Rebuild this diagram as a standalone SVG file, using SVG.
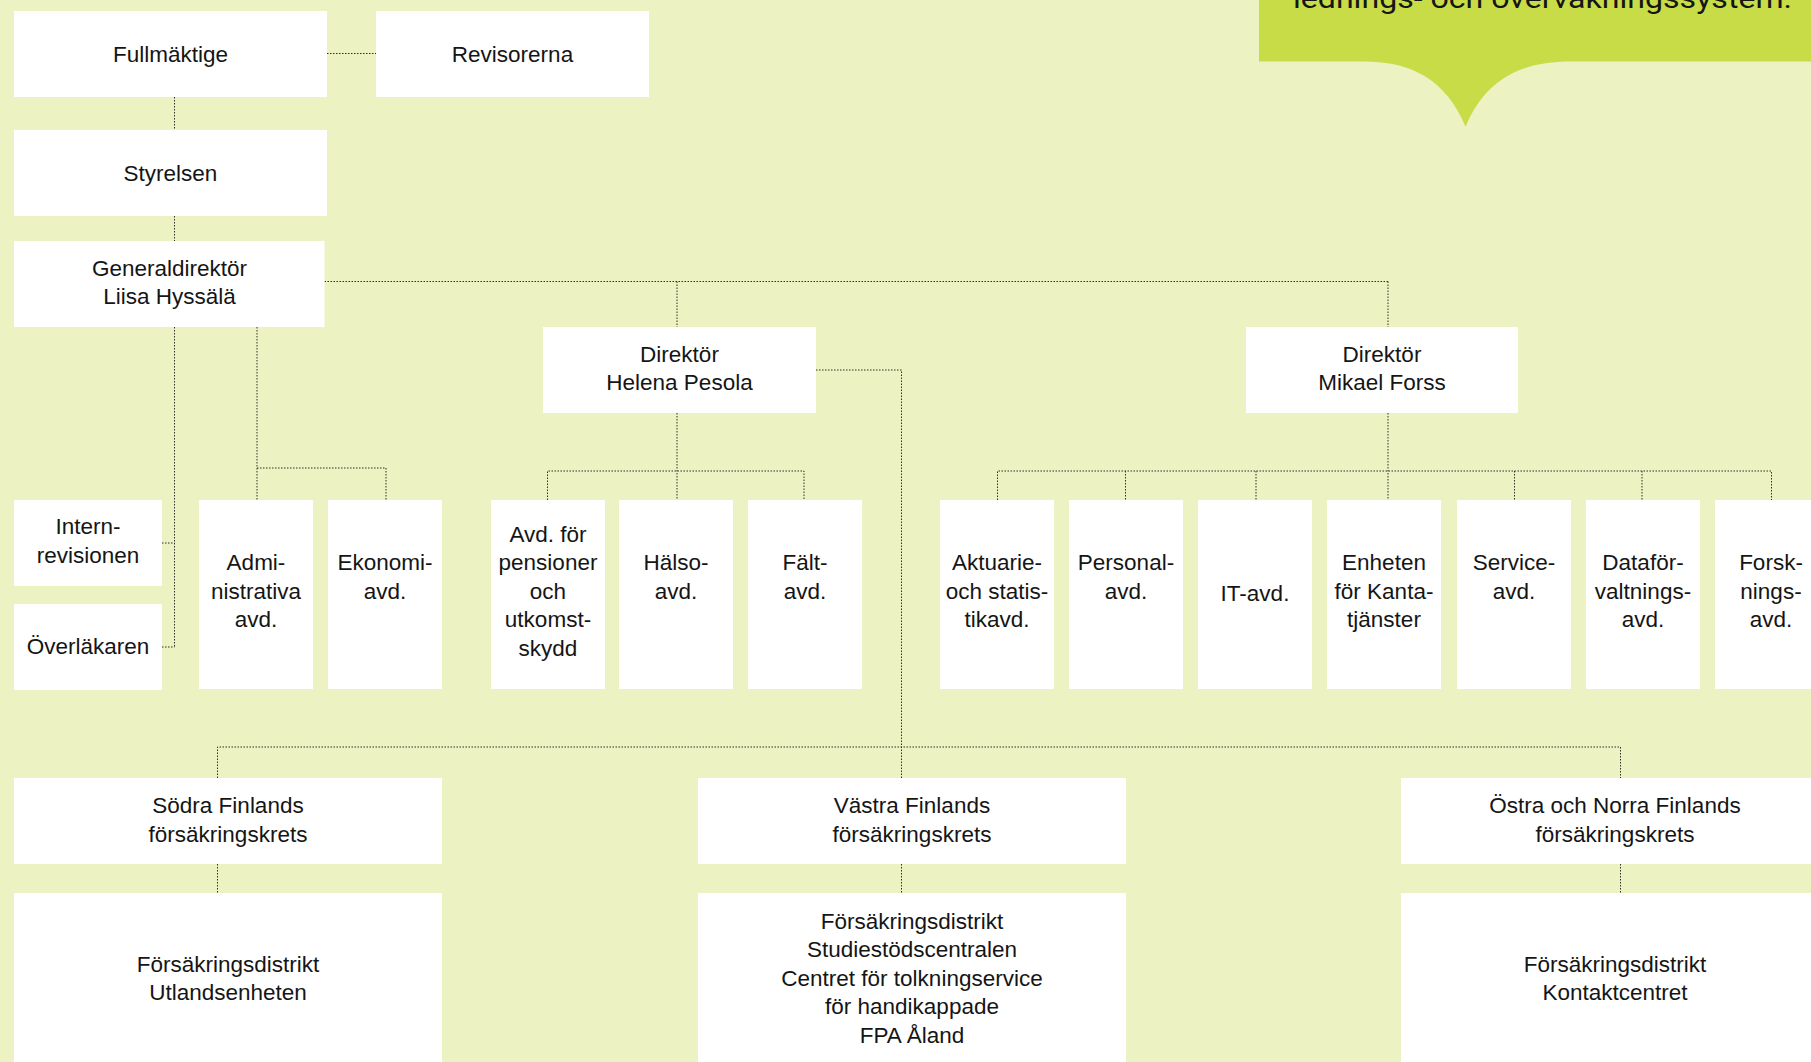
<svg xmlns="http://www.w3.org/2000/svg" width="1811" height="1062" viewBox="0 0 1811 1062">
<style>
.bg{fill:#ecf2c2}
.box{fill:#ffffff}
.t{font-family:"Liberation Sans",Arial,sans-serif;font-size:22.5px;fill:#151515;text-anchor:middle}
.c{fill:none;stroke:#2e2e26;stroke-width:1;stroke-dasharray:1.5 1.5}
.call{fill:#c8dc48}
.ct{font-family:Roboto,"Liberation Sans",sans-serif;font-size:27px;fill:#151515}
</style>
<rect class="bg" x="0" y="0" width="1811" height="1062"/>
<g id="callout">
<path class="call" d="M1259 0H1811V61.5H1570C1520 61.5 1485 80 1465.6 126.7C1446 80 1412 61.5 1364 61.5H1259Z"/>
<text class="ct" x="1293" y="7.5" textLength="499" lengthAdjust="spacingAndGlyphs">lednings- och övervakningssystem.</text>
</g>
<g id="connectors">
<path class="c" d="M327 53.5H376"/>
<path class="c" d="M174.5 97V130"/>
<path class="c" d="M174.5 216V241"/>
<path class="c" d="M324.5 281.5H1388"/>
<path class="c" d="M677 281.5V327"/>
<path class="c" d="M1388 281.5V327"/>
<path class="c" d="M174.5 327V647"/>
<path class="c" d="M162 543H174.5"/>
<path class="c" d="M162 647H174.5"/>
<path class="c" d="M257 327V500"/>
<path class="c" d="M257 468H386V500"/>
<path class="c" d="M677 413V500"/>
<path class="c" d="M547.5 500V471H804V500"/>
<path class="c" d="M816 370H901.5V778"/>
<path class="c" d="M217.5 778V747H1620.5V778"/>
<path class="c" d="M217.5 864V893"/>
<path class="c" d="M901.5 864V893"/>
<path class="c" d="M1620.5 864V893"/>
<path class="c" d="M1388 413V500"/>
<path class="c" d="M997.5 500V471H1771.5V500"/>
<path class="c" d="M1125.5 471V500"/>
<path class="c" d="M1256 471V500"/>
<path class="c" d="M1514.5 471V500"/>
<path class="c" d="M1642 471V500"/>
</g>
<g id="fullmaktige"><rect class="box" x="14" y="11" width="313" height="86"/><text class="t" x="170.5" y="61.5">Fullmäktige</text></g>
<g id="revisorerna"><rect class="box" x="376" y="11" width="273" height="86"/><text class="t" x="512.5" y="61.5">Revisorerna</text></g>
<g id="styrelsen"><rect class="box" x="14" y="130" width="313" height="86"/><text class="t" x="170.5" y="180.5">Styrelsen</text></g>
<g id="generaldirektor"><rect class="box" x="14" y="241" width="310.5" height="86"/><text class="t" x="169.5" y="275.5">Generaldirektör</text><text class="t" x="169.5" y="304">Liisa Hyssälä</text></g>
<g id="pesola"><rect class="box" x="543" y="327" width="273" height="86"/><text class="t" x="679.5" y="361.5">Direktör</text><text class="t" x="679.5" y="390">Helena Pesola</text></g>
<g id="forss"><rect class="box" x="1246" y="327" width="272" height="86"/><text class="t" x="1382" y="361.5">Direktör</text><text class="t" x="1382" y="390">Mikael Forss</text></g>
<g id="internrevisionen"><rect class="box" x="14" y="500" width="148" height="86"/><text class="t" x="88" y="533.5">Intern-</text><text class="t" x="88" y="562.5">revisionen</text></g>
<g id="overlakaren"><rect class="box" x="14" y="604" width="148" height="86"/><text class="t" x="88" y="653.5">Överläkaren</text></g>
<g id="admin"><rect class="box" x="199" y="500" width="114" height="189"/><text class="t" x="256" y="570">Admi-</text><text class="t" x="256" y="598.5">nistrativa</text><text class="t" x="256" y="627">avd.</text></g>
<g id="ekonomi"><rect class="box" x="328" y="500" width="114" height="189"/><text class="t" x="385" y="570">Ekonomi-</text><text class="t" x="385" y="598.5">avd.</text></g>
<g id="pension"><rect class="box" x="491" y="500" width="114" height="189"/><text class="t" x="548" y="541.5">Avd. för</text><text class="t" x="548" y="570">pensioner</text><text class="t" x="548" y="598.5">och</text><text class="t" x="548" y="627">utkomst-</text><text class="t" x="548" y="655.5">skydd</text></g>
<g id="halso"><rect class="box" x="619" y="500" width="114" height="189"/><text class="t" x="676" y="570">Hälso-</text><text class="t" x="676" y="598.5">avd.</text></g>
<g id="falt"><rect class="box" x="748" y="500" width="114" height="189"/><text class="t" x="805" y="570">Fält-</text><text class="t" x="805" y="598.5">avd.</text></g>
<g id="aktuarie"><rect class="box" x="940" y="500" width="114" height="189"/><text class="t" x="997" y="570">Aktuarie-</text><text class="t" x="997" y="598.5">och statis-</text><text class="t" x="997" y="627">tikavd.</text></g>
<g id="personal"><rect class="box" x="1069" y="500" width="114" height="189"/><text class="t" x="1126" y="570">Personal-</text><text class="t" x="1126" y="598.5">avd.</text></g>
<g id="it"><rect class="box" x="1198" y="500" width="114" height="189"/><text class="t" x="1255" y="600.5">IT-avd.</text></g>
<g id="kanta"><rect class="box" x="1327" y="500" width="114" height="189"/><text class="t" x="1384" y="570">Enheten</text><text class="t" x="1384" y="598.5">för Kanta-</text><text class="t" x="1384" y="627">tjänster</text></g>
<g id="service"><rect class="box" x="1457" y="500" width="114" height="189"/><text class="t" x="1514" y="570">Service-</text><text class="t" x="1514" y="598.5">avd.</text></g>
<g id="dataforvaltning"><rect class="box" x="1586" y="500" width="114" height="189"/><text class="t" x="1643" y="570">Dataför-</text><text class="t" x="1643" y="598.5">valtnings-</text><text class="t" x="1643" y="627">avd.</text></g>
<g id="forskning"><rect class="box" x="1715" y="500" width="114" height="189"/><text class="t" x="1771" y="570">Forsk-</text><text class="t" x="1771" y="598.5">nings-</text><text class="t" x="1771" y="627">avd.</text></g>
<g id="sodra"><rect class="box" x="14" y="778" width="428" height="86"/><text class="t" x="228" y="813">Södra Finlands</text><text class="t" x="228" y="841.5">försäkringskrets</text></g>
<g id="vastra"><rect class="box" x="698" y="778" width="428" height="86"/><text class="t" x="912" y="813">Västra Finlands</text><text class="t" x="912" y="841.5">försäkringskrets</text></g>
<g id="ostra"><rect class="box" x="1401" y="778" width="428" height="86"/><text class="t" x="1615" y="813">Östra och Norra Finlands</text><text class="t" x="1615" y="841.5">försäkringskrets</text></g>
<g id="sodra-distrikt"><rect class="box" x="14" y="893" width="428" height="169"/><text class="t" x="228" y="971.5">Försäkringsdistrikt</text><text class="t" x="228" y="1000">Utlandsenheten</text></g>
<g id="vastra-distrikt"><rect class="box" x="698" y="893" width="428" height="169"/><text class="t" x="912" y="928.5">Försäkringsdistrikt</text><text class="t" x="912" y="957">Studiestödscentralen</text><text class="t" x="912" y="985.5">Centret för tolkningservice</text><text class="t" x="912" y="1014">för handikappade</text><text class="t" x="912" y="1042.5">FPA Åland</text></g>
<g id="ostra-distrikt"><rect class="box" x="1401" y="893" width="428" height="169"/><text class="t" x="1615" y="971.5">Försäkringsdistrikt</text><text class="t" x="1615" y="1000">Kontaktcentret</text></g>
</svg>
